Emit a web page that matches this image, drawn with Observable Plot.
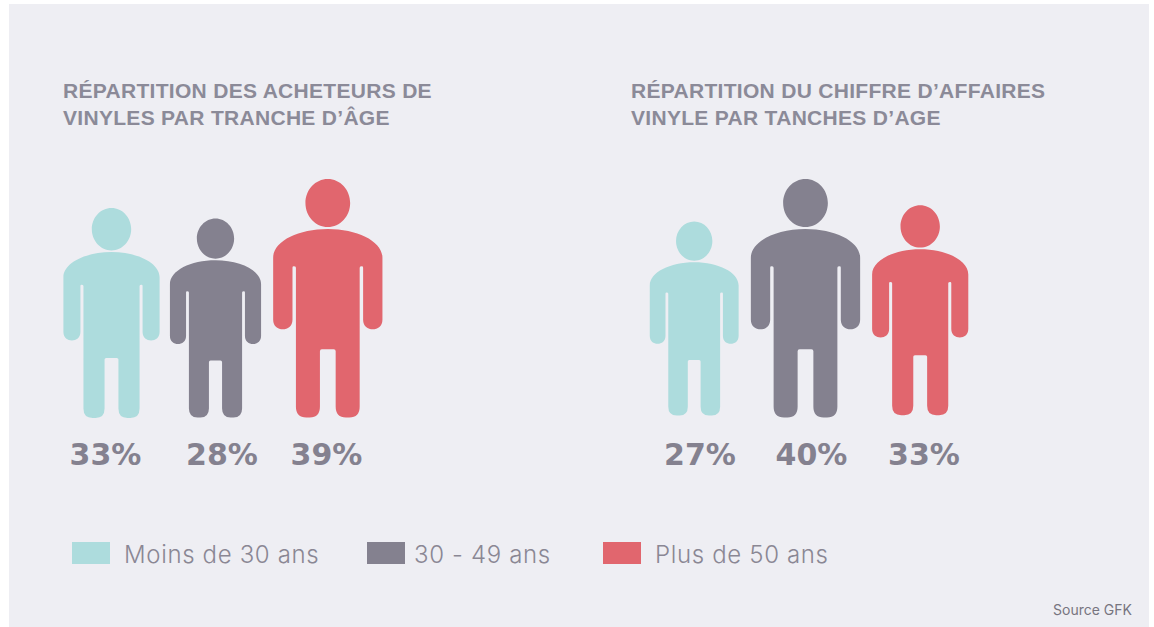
<!DOCTYPE html>
<html lang="fr">
<head>
<meta charset="utf-8">
<title>Répartition des acheteurs et du chiffre d'affaires vinyle</title>
<script src="https://cdn.jsdelivr.net/npm/d3@7"></script>
<script src="https://cdn.jsdelivr.net/npm/@observablehq/plot@0.6"></script>
<style>
  html, body { margin: 0; padding: 0; background: #fff; width: 1154px; height: 627px; overflow: hidden; }
  #panel { position: absolute; left: 9px; top: 4px; width: 1140px; height: 623px; background: #eeeef3; }
  .title { position: absolute; margin: 0; top: 74px; font: bold 21px/26.5px "Liberation Sans", sans-serif; letter-spacing: 0.3px; color: #8b8a98; white-space: pre-line; }
  #chart { position: absolute; left: -9px; top: 166px; width: 1154px; }
  .legend-item { position: absolute; top: 538px; height: 22px; }
  .legend-item i { position: absolute; left: 0; top: 0; width: 38px; height: 22px; }
  .legend-item span { position: absolute; top: 0; font: 300 24px/26px "Inter", sans-serif; letter-spacing: 0.65px; color: #8a8794; white-space: nowrap; }
  #source { position: absolute; left: 1044px; top: 598px; font: 14px/16px "Inter", sans-serif; color: #77757f; white-space: nowrap; }
</style>
</head>
<body>
<div id="panel">
  <h2 class="title" id="t0" style="left:54px"></h2>
  <h2 class="title" id="t1" style="left:622px"></h2>
  <div id="chart"></div>
  <div id="legend"></div>
  <div id="source"></div>
</div>
<script>
const panels = ["acheteurs", "chiffre"];
const panelTitles = [
  "RÉPARTITION DES ACHETEURS DE\nVINYLES PAR TRANCHE D’ÂGE",
  "RÉPARTITION DU CHIFFRE D’AFFAIRES\nVINYLE PAR TANCHES D’AGE"
];
const ages = ["Moins de 30 ans", "30 - 49 ans", "Plus de 50 ans"];
const ageColors = ["#addcdd", "#84818f", "#e1666e"];
const buyerShares = [33, 28, 39];
const revenueShares = [27, 40, 33];
const source = "Source GFK";

const rows = [
  ...ages.map((age, i) => ({panel: panels[0], age, share: buyerShares[i], id: `${panels[0]}-${i}`})),
  ...ages.map((age, i) => ({panel: panels[1], age, share: revenueShares[i], id: `${panels[1]}-${i}`}))
];
const ids = rows.map(d => d.id);
const labelIds = ids.map(id => `${id}-label`);

/* Unit pictogram: origin between the feet, total height = 2r. */
const person = {
  draw(c, size) {
    const H = 2 * Math.sqrt(size / Math.PI);
    const X = v => v * H, Y = v => -v * H;
    const M = (x, y) => c.moveTo(X(x), Y(y));
    const L = (x, y) => c.lineTo(X(x), Y(y));
    const C = (a, b, d, e, f, g) => c.bezierCurveTo(X(a), Y(b), X(d), Y(e), X(f), Y(g));
    const Q = (a, b, f, g) => c.quadraticCurveTo(X(a), Y(b), X(f), Y(g));
    // head
    const hy = 0.899, rx = 0.0937, ry = 0.101, k = 0.5523;
    M(-rx, hy);
    C(-rx, hy + k * ry, -k * rx, hy + ry, 0, hy + ry);
    C(k * rx, hy + ry, rx, hy + k * ry, rx, hy);
    C(rx, hy - k * ry, k * rx, hy - ry, 0, hy - ry);
    C(-k * rx, hy - ry, -rx, hy - k * ry, -rx, hy);
    c.closePath();
    // body
    const w = 0.229, ai = 0.148, t = 0.1336, cr = 0.033;
    M(-w, 0.67);
    C(-w, 0.738, -0.125, 0.79, 0, 0.79);
    C(0.125, 0.79, w, 0.738, w, 0.67);
    L(w, 0.41);
    C(w, 0.356, ai, 0.356, ai, 0.41);
    L(ai, 0.628);
    Q(ai, 0.634, ai - 0.005, 0.634);
    Q(t, 0.634, t, 0.628);
    L(t, 0.045);
    Q(t, 0, 0.09, 0);
    L(0.076, 0);
    Q(cr, 0, cr, 0.045);
    L(cr, 0.278);
    Q(cr, 0.286, cr - 0.008, 0.286);
    L(-cr + 0.008, 0.286);
    Q(-cr, 0.286, -cr, 0.278);
    L(-cr, 0.045);
    Q(-cr, 0, -0.076, 0);
    L(-0.09, 0);
    Q(-t, 0, -t, 0.045);
    L(-t, 0.628);
    Q(-t, 0.634, -ai + 0.005, 0.634);
    Q(-ai, 0.634, -ai, 0.628);
    L(-ai, 0.41);
    C(-ai, 0.356, -w, 0.356, -w, 0.41);
    c.closePath();
  }
};

const chart = Plot.plot({
  width: 1154,
  height: 310,
  margin: 0,
  style: {background: "none", fontFamily: "'DejaVu Sans', sans-serif", overflow: "visible", maxWidth: "none"},
  x: {
    type: "ordinal", axis: null,
    domain: [...ids, ...labelIds],
    range: [111, 215, 327.3, 693.7, 805, 919.7, 105, 221.5, 326, 699.5, 811, 923.5]
  },
  y: {
    type: "ordinal", axis: null,
    domain: [...ids, "label"],
    range: [247.5, 247, 247, 245, 247, 244.7, 284.5]
  },
  r: {type: "linear", domain: [27, 28, 33, 39, 40], range: [97, 99.5, 105, 119.3, 119.3]},
  color: {type: "ordinal", domain: ages, range: ageColors},
  marks: [
    Plot.dot(rows, {x: "id", y: "id", r: "share", fill: "age", stroke: "none", symbol: person}),
    Plot.text(rows, {
      x: d => `${d.id}-label`, y: () => "label",
      text: d => `${d.share}%`,
      fill: ageColors[1], fontSize: 30, fontWeight: "bold"
    })
  ]
});
document.getElementById("chart").append(chart);

panelTitles.forEach((t, i) => { document.getElementById(`t${i}`).textContent = t; });
document.getElementById("source").textContent = source;
const legendLefts = [63, 358, 594], legendGaps = [52, 47, 52];
const legend = document.getElementById("legend");
ages.forEach((age, i) => {
  const item = document.createElement("div");
  item.className = "legend-item";
  item.style.left = legendLefts[i] + "px";
  const sw = document.createElement("i");
  sw.style.background = chart.scale("color").apply(age);
  const label = document.createElement("span");
  label.style.left = legendGaps[i] + "px";
  label.textContent = age;
  item.append(sw, label);
  legend.append(item);
});
</script>
</body>
</html>
